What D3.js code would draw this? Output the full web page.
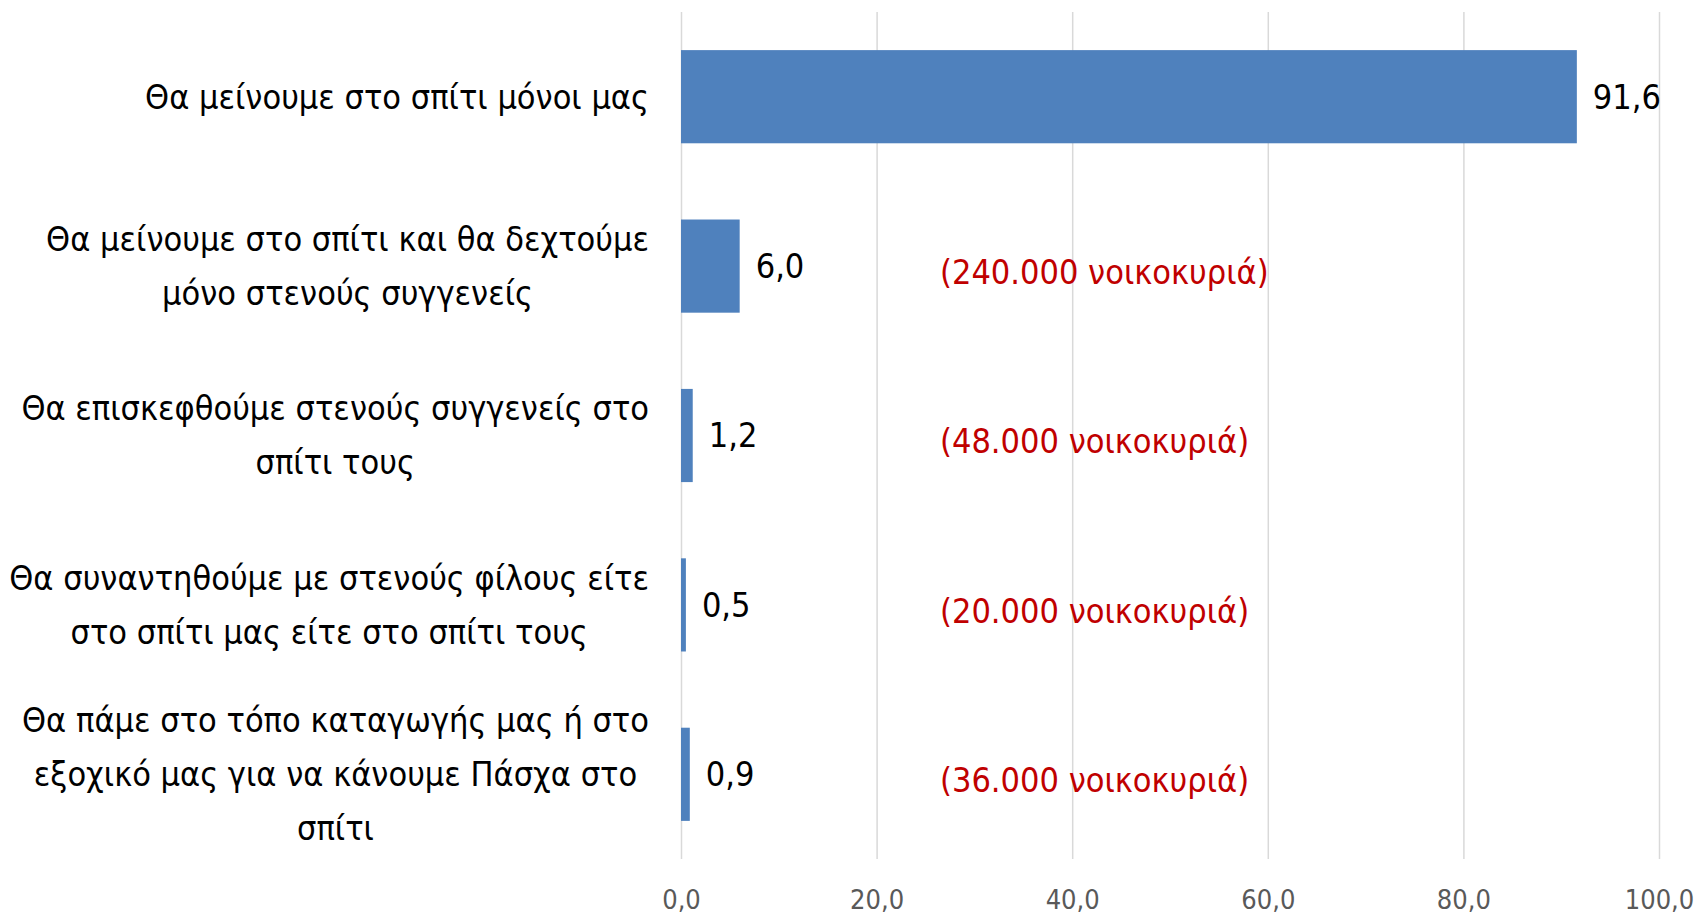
<!DOCTYPE html>
<html>
<head>
<meta charset="utf-8">
<script src="https://cdn.jsdelivr.net/npm/d3@7"></script>
<style>
  html, body { margin: 0; padding: 0; background: #fff; }
  svg { display: block; font-family: "DejaVu Sans Condensed", "DejaVu Sans", sans-serif; }
</style>
</head>
<body>
<svg id="chart" width="1701" height="917"></svg>
<script>
// category labels, already wrapped the way the original shows them
const categories = [
  ["Θα μείνουμε στο σπίτι μόνοι μας"],
  ["Θα μείνουμε στο σπίτι και θα δεχτούμε", "μόνο στενούς συγγενείς"],
  ["Θα επισκεφθούμε στενούς συγγενείς στο", "σπίτι τους"],
  ["Θα συναντηθούμε με στενούς φίλους είτε", "στο σπίτι μας είτε στο σπίτι τους"],
  ["Θα πάμε στο τόπο καταγωγής μας ή στο", "εξοχικό μας για να κάνουμε Πάσχα στο", "σπίτι"]
];
const values = [91.6, 6.0, 1.2, 0.5, 0.9];
const households = [null, "(240.000 νοικοκυριά)", "(48.000 νοικοκυριά)", "(20.000 νοικοκυριά)", "(36.000 νοικοκυριά)"];
const xTicks = [0, 20, 40, 60, 80, 100];

const locale = d3.formatLocale({ decimal: ",", thousands: ".", grouping: [3], currency: ["", "€"] });
const fmt = locale.format(".1f");

const svg = d3.select("#chart");
const plot = { left: 681, right: 1659, top: 12, bottom: 859 };
const fontSize = 34;

const x = d3.scaleLinear().domain([0, 100]).range([plot.left, plot.right]);
const y = d3.scaleBand()
  .domain(d3.range(categories.length))
  .range([plot.top, plot.bottom])
  .paddingInner(0.45)
  .paddingOuter(0.225);

// vertical gridlines + tick labels
const axis = d3.axisBottom(x)
  .tickValues(xTicks)
  .tickSize(-(plot.bottom - plot.top))
  .tickPadding(31)
  .tickFormat(fmt);

const axisGroup = svg.append("g")
  .attr("transform", `translate(0,${plot.bottom})`)
  .call(axis);
axisGroup.attr("font-family", null).attr("font-size", null);
axisGroup.select(".domain").remove();
axisGroup.selectAll("line").attr("stroke", "#d9d9d9").attr("stroke-width", 1.5);
axisGroup.selectAll("text")
  .attr("fill", "#595959")
  .attr("font-size", 27);

// bars
svg.append("g").selectAll("rect")
  .data(values)
  .join("rect")
  .attr("x", x(0))
  .attr("y", (d, i) => y(i))
  .attr("width", (d) => x(d) - x(0))
  .attr("height", y.bandwidth())
  .attr("fill", "#4f81bd");

// value labels
svg.append("g").selectAll("text")
  .data(values)
  .join("text")
  .attr("x", (d) => x(d) + 16)
  .attr("y", (d, i) => y(i) + y.bandwidth() / 2)
  .attr("dy", "0.35em")
  .attr("font-size", fontSize)
  .attr("fill", "#000")
  .text((d) => fmt(d));

// category labels: block right-aligned to the axis, lines centred inside it
const lineHeight = 54;
const labelRight = 649;
const labels = svg.append("g");
categories.forEach((lines, i) => {
  const cy = y(i) + y.bandwidth() / 2;
  const g = labels.append("g");
  const texts = lines.map((line, j) => g.append("text")
    .attr("y", cy + (j - (lines.length - 1) / 2) * lineHeight)
    .attr("dy", "0.35em")
    .attr("font-size", fontSize)
    .attr("fill", "#000")
    .attr("text-anchor", "middle")
    .text(line));
  const blockWidth = d3.max(texts, (t) => t.node().getComputedTextLength());
  texts.forEach((t) => t.attr("x", labelRight - blockWidth / 2));
});

// red household annotations
svg.append("g").selectAll("text")
  .data(households.map((t, i) => ({ t, i })).filter((d) => d.t))
  .join("text")
  .attr("x", 940)
  .attr("y", (d) => y(d.i) + y.bandwidth() / 2 + 6)
  .attr("dy", "0.35em")
  .attr("font-size", fontSize)
  .attr("fill", "#c00000")
  .text((d) => d.t);
</script>
</body>
</html>
